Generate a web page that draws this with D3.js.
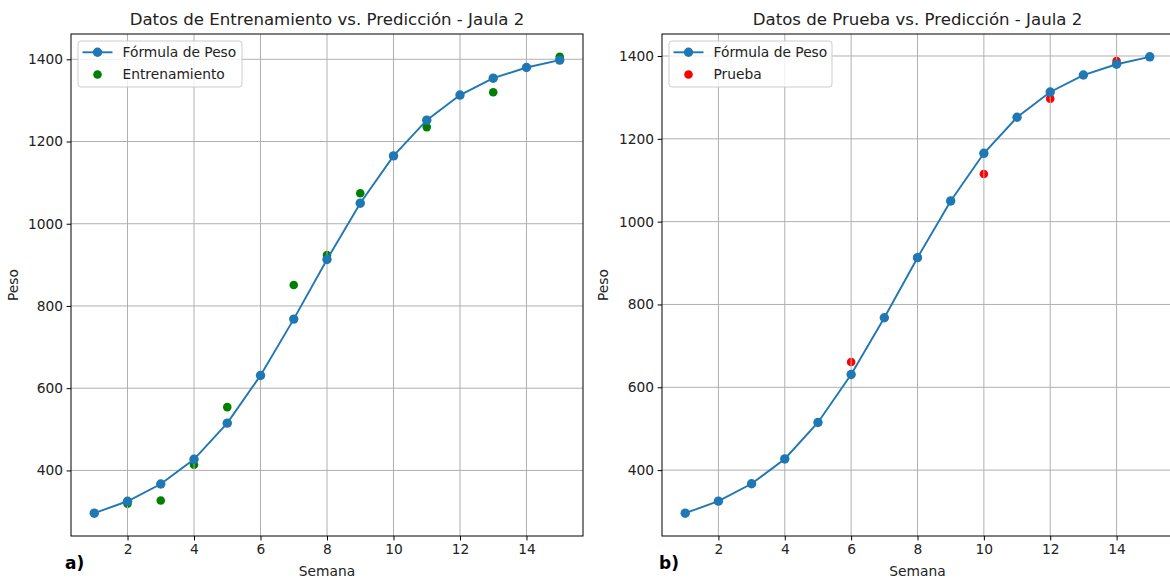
<!DOCTYPE html>
<html><head><meta charset="utf-8">
<script src="https://cdn.jsdelivr.net/npm/d3@7"></script>
<style>body{margin:0;background:#fff}svg{display:block;font-family:"DejaVu Sans",sans-serif}</style>
</head><body><svg id="c" width="1170" height="581"></svg>
<script>
const semanas = [1,2,3,4,5,6,7,8,9,10,11,12,13,14,15];
const formulaPeso = [296,325,367,427,515,631,768,913,1050,1165,1252,1313,1354,1380,1398];
const entrenamientoX = [2,3,4,5,7,8,9,11,13,15];
const entrenamientoY = [319,327,414,554,851,924,1074,1235,1320,1406];
const pruebaX = [6,10,12,14];
const pruebaY = [661,1115,1297,1388];
const xTicks = [2,4,6,8,10,12,14];
const yTicks = [400,600,800,1000,1200,1400];

const svg = d3.select("#c");
const FS = 13.8;

function panel(o){
  const g = svg.append("g");
  const {left,right,top,bottom} = o;
  const xs = semanas.concat(o.sx);
  const ys = formulaPeso.concat(o.sy);
  const [x0,x1] = d3.extent(xs), [y0,y1] = d3.extent(ys);
  const px=(x1-x0)*0.05, py=(y1-y0)*0.05;
  const x = d3.scaleLinear().domain([x0-px,x1+px]).range([left,right]);
  const y = d3.scaleLinear().domain([y0-py,y1+py]).range([bottom,top]);
  const clipId = "clip"+o.id;
  svg.append("clipPath").attr("id",clipId).append("rect").attr("x",left).attr("y",top).attr("width",right-left).attr("height",bottom-top);
  const plot = g.append("g").attr("clip-path",`url(#${clipId})`);
  plot.selectAll("circle.s").data(o.sx.map((v,i)=>[v,o.sy[i]])).join("circle")
    .attr("cx",d=>x(d[0])).attr("cy",d=>y(d[1])).attr("r",4.3).attr("fill",o.color);
  plot.selectAll("line.gx").data(xTicks).join("line")
    .attr("x1",d=>x(d)).attr("x2",d=>x(d)).attr("y1",top).attr("y2",bottom)
    .attr("stroke","#b0b0b0").attr("stroke-width",1);
  plot.selectAll("line.gy").data(yTicks).join("line")
    .attr("y1",d=>y(d)).attr("y2",d=>y(d)).attr("x1",left).attr("x2",right)
    .attr("stroke","#b0b0b0").attr("stroke-width",1);
  const line = d3.line().x((d,i)=>x(semanas[i])).y(d=>y(d));
  plot.append("path").attr("d",line(formulaPeso)).attr("fill","none").attr("stroke","#1f77b4").attr("stroke-width",1.9);
  plot.selectAll("circle.m").data(formulaPeso).join("circle")
    .attr("cx",(d,i)=>x(semanas[i])).attr("cy",d=>y(d)).attr("r",4.7).attr("fill","#1f77b4");
  const ax = g.append("g").attr("transform",`translate(0,${bottom})`)
    .call(d3.axisBottom(x).tickValues(xTicks).tickFormat(d3.format("d")).tickSize(4.4).tickPadding(3.5).tickSizeOuter(0));
  ax.select(".domain").remove();
  const ay = g.append("g").attr("transform",`translate(${left},0)`)
    .call(d3.axisLeft(y).tickValues(yTicks).tickFormat(d3.format("d")).tickSize(4.4).tickPadding(3.5).tickSizeOuter(0));
  ay.select(".domain").remove();
  [ax,ay].forEach(a=>{a.selectAll("text").attr("font-size",FS).attr("fill","#222").attr("font-family","DejaVu Sans");
    a.selectAll("line").attr("stroke","#000").attr("stroke-width",1);});
  g.append("rect").attr("x",left).attr("y",top).attr("width",right-left).attr("height",bottom-top)
    .attr("fill","none").attr("stroke","#000").attr("stroke-width",1);
  g.append("text").attr("x",(left+right)/2).attr("y",25).attr("text-anchor","middle").attr("font-size",16.6).attr("fill","#222").text(o.title);
  g.append("text").attr("x",(left+right)/2).attr("y",576).attr("text-anchor","middle").attr("font-size",FS).attr("fill","#222").text("Semana");
  g.append("text").attr("transform",`translate(${o.ylx},${(top+bottom)/2}) rotate(-90)`).attr("text-anchor","middle").attr("font-size",FS).attr("fill","#222").text("Peso");
  g.append("text").attr("x",o.lab).attr("y",569).attr("font-size",17).attr("font-weight","bold").attr("fill","#000").text(o.label);
  const lg = g.append("g");
  lg.append("rect").attr("x",left+7).attr("y",41).attr("width",o.legW).attr("height",46).attr("rx",3)
    .attr("fill","#fff").attr("fill-opacity",0.8).attr("stroke","#cccccc").attr("stroke-width",1);
  lg.append("line").attr("x1",left+11.5).attr("x2",left+41.5).attr("y1",52.3).attr("y2",52.3).attr("stroke","#1f77b4").attr("stroke-width",1.9);
  lg.append("circle").attr("cx",left+26.5).attr("cy",52.3).attr("r",4.7).attr("fill","#1f77b4");
  lg.append("circle").attr("cx",left+26.5).attr("cy",74.5).attr("r",4.3).attr("fill",o.color);
  lg.append("text").attr("x",left+51.5).attr("y",57.2).attr("font-size",FS).attr("fill","#222").text("Fórmula de Peso");
  lg.append("text").attr("x",left+51.5).attr("y",79).attr("font-size",FS).attr("fill","#222").text(o.sname);
}

panel({id:1,left:71,right:583,top:34,bottom:536,sx:entrenamientoX,sy:entrenamientoY,color:"#008000",
  title:"Datos de Entrenamiento vs. Predicción - Jaula 2",sname:"Entrenamiento",label:"a)",lab:65,ylx:18,legW:164});
panel({id:2,left:662,right:1173,top:34,bottom:536,sx:pruebaX,sy:pruebaY,color:"#ff0000",
  title:"Datos de Prueba vs. Predicción - Jaula 2",sname:"Prueba",label:"b)",lab:659,ylx:608,legW:163});
</script></body></html>
